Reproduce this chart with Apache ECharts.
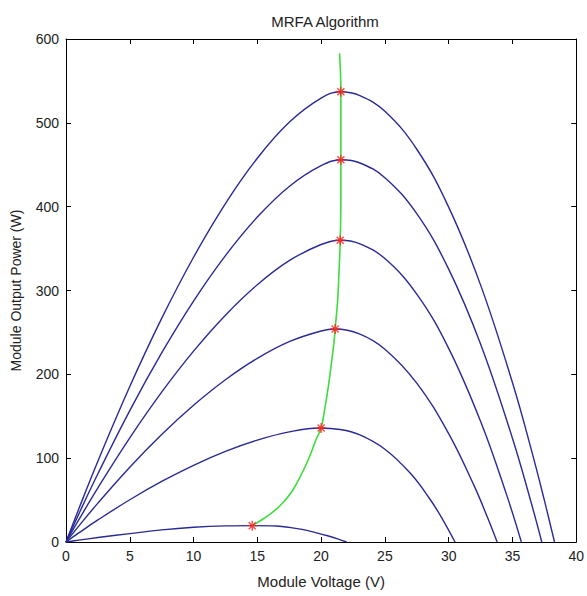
<!DOCTYPE html>
<html>
<head>
<meta charset="utf-8">
<script src="https://cdn.jsdelivr.net/npm/echarts@6/dist/echarts.min.js"></script>
<style>
html,body{margin:0;padding:0;background:#fff;}
#chart{width:587px;height:596px;}
</style>
</head>
<body>
<div id="chart"></div>
<script>
// Data
const xTicks = [0, 5, 10, 15, 20, 25, 30, 35, 40];
const yTicks = [0, 100, 200, 300, 400, 500, 600];

const curve1V = [0, 1, 2.5, 5, 7.5, 10, 12.5, 15, 17.5, 20, 21.5, 23, 25, 27.5, 30, 32.5, 35, 36.5, 37.5, 38.3];
const curve1P = [0, 39.4, 96.4, 185.4, 266.7, 339.7, 403.7, 457.8, 500.6, 529.4, 537, 532.7, 513.7, 468.5, 399.5, 306.7, 190.2, 109, 49.9, 0];

const curve2V = [0, 1, 2.5, 5, 7.5, 10, 12.5, 15, 17.5, 20, 21.6, 23, 25, 27.5, 30, 32.5, 35, 36.5, 37.3];
const curve2P = [0, 33.3, 81.4, 156.8, 225.5, 287.4, 341.6, 387.6, 424.1, 448.9, 456, 452.4, 434.6, 391.6, 325.5, 236.2, 123.8, 45.3, 0];

const curve3V = [0, 1, 2.5, 5, 7.5, 10, 12.5, 15, 17.5, 20, 21.5, 23, 25, 27.5, 30, 32.5, 34.5, 35.7];
const curve3P = [0, 26.4, 64.7, 124.3, 178.8, 227.7, 270.6, 306.9, 335.6, 354.9, 360, 356, 338.1, 295.7, 231, 144, 58.3, 0];

const curve4V = [0, 1, 2.5, 5, 7.5, 10, 12.5, 15, 17.5, 20, 21.1, 23, 25, 27.5, 30, 32, 33, 33.8];
const curve4P = [0, 19.0, 46.4, 89.2, 128.2, 163.1, 193.6, 219.1, 239, 251.7, 254, 248.3, 230, 189.5, 129.3, 66.9, 31, 0];

const curve5V = [0, 1, 2.5, 5, 7.5, 10, 12.5, 15, 17.5, 19.9, 21.5, 23, 25, 27, 28.5, 29.5, 30.5];
const curve5P = [0, 10.8, 26.3, 50.4, 72.2, 91.5, 108.1, 121.6, 131.4, 136, 134.2, 128, 110.7, 81.9, 51.9, 27.7, 0];

const curve6V = [0, 1, 2.5, 5, 7.5, 10, 12.5, 14.6, 16.5, 17.5, 18.5, 19.5, 20.5, 21.3, 22];
const curve6P = [0, 2.2, 5.3, 10, 14.5, 17.6, 19.2, 19.5, 19, 17.5, 15, 11.5, 7.5, 3.8, 0];

const mpptV = [14.6, 15.5, 16.7, 17.7, 18.5, 19.1, 19.6, 20.0, 20.3, 20.6, 21.0, 21.1, 21.3, 21.4, 21.5, 21.55, 21.55, 21.55, 21.45];
const mpptP = [19.5, 28, 42, 60, 82, 102, 122, 136, 160, 189, 237, 254, 289, 321, 360, 410, 456, 537, 583];

const markerV = [14.6, 20.0, 21.1, 21.5, 21.55, 21.55];
const markerP = [19.5, 136, 254, 360, 456, 537];

const titleText = 'MRFA Algorithm';
const xName = 'Module Voltage (V)';
const yName = 'Module Output Power (W)';

function pairs(xs, ys) { return xs.map((x, i) => [x, ys[i]]); }

const blue = '#2a2a96';
const font = 'Liberation Sans, Arial, sans-serif';
const starPath = 'path://M4.3,0 L5.7,0 L5.7,10 L4.3,10 Z M0,4.3 L10,4.3 L10,5.7 L0,5.7 Z M1,2 L2,1 L9,8 L8,9 Z M8,1 L9,2 L2,9 L1,8 Z';

const curves = [[curve1V, curve1P], [curve2V, curve2P], [curve3V, curve3P], [curve4V, curve4P], [curve5V, curve5P], [curve6V, curve6P]];

const series = curves.map(c => ({
  type: 'line', data: pairs(c[0], c[1]), showSymbol: false, smooth: 0.4,
  lineStyle: { color: blue, width: 1.4 }, z: 2, silent: true
}));
series.push({
  type: 'line', data: pairs(mpptV, mpptP), showSymbol: false, smooth: 0.4,
  lineStyle: { color: '#3fdc3f', width: 1.6 }, z: 3, silent: true
});
series.push({
  type: 'scatter', data: pairs(markerV, markerP), symbol: starPath, symbolSize: 10,
  itemStyle: { color: '#ff1a1a' }, z: 4, silent: true
});

const axisCommon = {
  type: 'value', min: 0, splitLine: { show: false },
  axisLine: { show: true, onZero: false, lineStyle: { color: '#000', width: 1 } },
  axisTick: { show: true, inside: true, length: 5, lineStyle: { color: '#000' } }
};

const chart = echarts.init(document.getElementById('chart'), null, { renderer: 'svg' });
chart.setOption({
  animation: false,
  backgroundColor: '#fff',
  grid: { left: 66, top: 39, right: 8, bottom: 54, containLabel: false },
  title: {
    text: titleText, left: 320, top: 9, textAlign: 'center',
    textStyle: { fontFamily: font, fontSize: 15, fontWeight: 'normal', color: '#222' }
  },
  xAxis: [
    Object.assign({}, axisCommon, {
      position: 'bottom', max: 40, interval: 5,
      axisLabel: { color: '#222', fontFamily: font, fontSize: 14, margin: 7,
        formatter: v => xTicks.indexOf(v) >= 0 ? String(v) : '' },
      name: xName, nameLocation: 'middle', nameGap: 32,
      nameTextStyle: { color: '#222', fontFamily: font, fontSize: 15 }
    }),
    Object.assign({}, axisCommon, { position: 'top', max: 40, interval: 5, axisLabel: { show: false } })
  ],
  yAxis: [
    Object.assign({}, axisCommon, {
      position: 'left', max: 600, interval: 100,
      axisLabel: { color: '#222', fontFamily: font, fontSize: 14, margin: 7,
        formatter: v => yTicks.indexOf(v) >= 0 ? String(v) : '' },
      name: yName, nameLocation: 'middle', nameGap: 43,
      nameTextStyle: { color: '#222', fontFamily: font, fontSize: 14 }
    }),
    Object.assign({}, axisCommon, { position: 'right', max: 600, interval: 100, axisLabel: { show: false } })
  ],
  series: series
});
</script>
</body>
</html>
